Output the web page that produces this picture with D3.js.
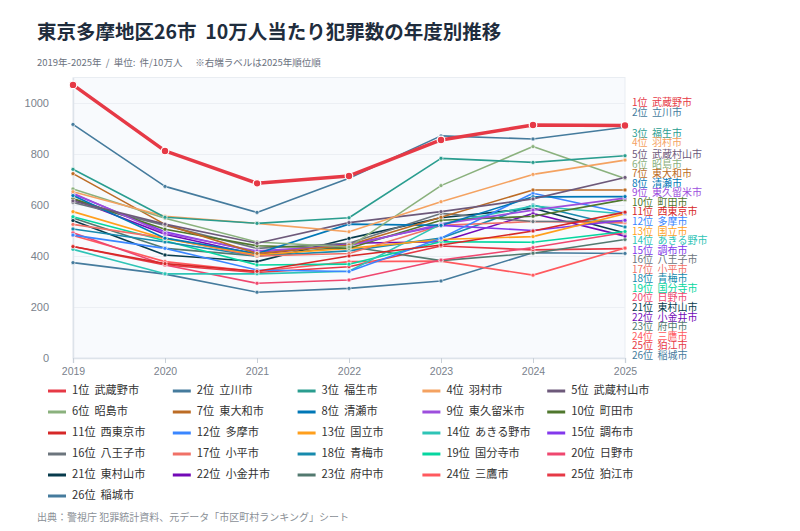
<!DOCTYPE html>
<html>
<head>
<meta charset="utf-8">
<script src="https://cdn.jsdelivr.net/npm/d3@7"></script>
<style>
  body { margin: 0; background: #fff; }
  svg { font-family: "Noto Sans CJK JP", "Noto Sans", sans-serif; }
</style>
</head>
<body>
<svg width="800" height="531"></svg>
<script>
const years = ['2019', '2020', '2021', '2022', '2023', '2024', '2025']
const yTicks = [0, 200, 400, 600, 800, 1000]

// 2025年順位順
const cities = ['武蔵野市', '立川市', '福生市', '羽村市', '武蔵村山市', '昭島市', '東大和市', '清瀬市',
  '東久留米市', '町田市', '西東京市', '多摩市', '国立市', 'あきる野市', '調布市', '八王子市', '小平市',
  '青梅市', '国分寺市', '日野市', '東村山市', '小金井市', '府中市', '三鷹市', '狛江市', '稲城市']

// 10万人当たり犯罪数 (2019..2025)
const values = [
  [1071, 812, 685, 714, 855, 914, 912],
  [916, 673, 571, 705, 871, 859, 905],
  [740, 552, 528, 550, 783, 767, 793],
  [652, 556, 528, 495, 613, 720, 776],
  [616, 525, 450, 531, 574, 624, 708],
  [663, 548, 455, 435, 676, 829, 704],
  [723, 524, 410, 443, 552, 659, 659],
  [637, 470, 410, 525, 520, 632, 633],
  [646, 489, 420, 440, 525, 580, 627],
  [625, 505, 440, 430, 540, 556, 621],
  [437, 370, 340, 400, 443, 498, 572],
  [482, 430, 345, 339, 470, 646, 568],
  [574, 468, 405, 430, 465, 476, 566],
  [426, 330, 330, 340, 525, 596, 565],
  [643, 495, 415, 445, 520, 500, 540],
  [610, 520, 430, 450, 567, 535, 537],
  [524, 470, 400, 410, 520, 535, 530],
  [506, 455, 400, 420, 470, 600, 514],
  [554, 460, 365, 368, 456, 454, 496],
  [491, 365, 293, 306, 384, 433, 492],
  [539, 404, 378, 469, 550, 587, 490],
  [624, 485, 405, 450, 456, 567, 478],
  [549, 430, 400, 437, 382, 411, 465],
  [480, 378, 339, 378, 380, 325, 431],
  [437, 365, 335, 358, 439, 424, 429],
  [374, 329, 258, 273, 302, 413, 410]
]

const palette = ['#e63946', '#457b9d', '#2a9d8f', '#f4a261', '#6d597a', '#8ab17d', '#bc6c25', '#0077b6',
  '#9d4edd', '#4f772d', '#d62828', '#3a86ff', '#ff9f1c', '#2ec4b6', '#8338ec', '#6c757d',
  '#f07167', '#168aad', '#06d6a0', '#ef476f', '#073b4c', '#7209b7', '#52796f', '#ff595e']

const series = cities.map((name, i) => ({
  rank: i + 1,
  name: name,
  color: palette[i % palette.length],
  points: years.map((yr, j) => ({ year: yr, value: values[i][j] }))
}))

const plot = { left: 73, right: 625, top: 77.5, bottom: 358 }

const x = d3.scalePoint().domain(years).range([plot.left, plot.right])
const y = d3.scaleLinear().domain([0, 1100]).range([plot.bottom, plot.top])

const svg = d3.select('svg')

// title
svg.append('text')
  .attr('x', 37).attr('y', 39)
  .attr('font-size', 19.5).attr('font-weight', 700).attr('fill', '#1f2d3d')
  .attr('xml:space', 'preserve')
  .text('東京多摩地区26市  10万人当たり犯罪数の年度別推移')
svg.append('text')
  .attr('x', 37).attr('y', 66)
  .attr('font-size', 9.5).attr('fill', '#6b7280')
  .attr('xml:space', 'preserve')
  .text('2019年-2025年  /  単位:  件/10万人      ※右端ラベルは2025年順位順')

// plot background
svg.append('rect')
  .attr('x', plot.left).attr('y', plot.top)
  .attr('width', plot.right - plot.left).attr('height', plot.bottom - plot.top)
  .attr('fill', '#f8fafd').attr('stroke', '#e9edf2')

// grid
const grid = svg.append('g')
  .attr('transform', `translate(${plot.left},0)`)
  .call(d3.axisLeft(y).tickValues(yTicks).tickSize(-(plot.right - plot.left)).tickFormat(''))
grid.select('.domain').remove()
grid.selectAll('.tick line').attr('stroke', '#eceff4')

// y axis
const yAxisG = svg.append('g')
  .attr('transform', `translate(${plot.left},0)`)
  .call(d3.axisLeft(y).tickValues(yTicks).tickFormat(d3.format('d')).tickSize(0).tickPadding(24))
yAxisG.select('.domain').attr('stroke', '#dde3ea').attr('stroke-width', 1.5)
yAxisG.selectAll('text').attr('font-size', 11).attr('fill', '#7a828c').attr('font-family', 'inherit')

// x axis
const xAxisG = svg.append('g')
  .attr('transform', `translate(0,${plot.bottom})`)
  .call(d3.axisBottom(x).tickSize(5).tickPadding(5))
xAxisG.select('.domain').attr('stroke', '#dde3ea').attr('stroke-width', 1.5)
xAxisG.selectAll('.tick line').attr('stroke', '#c9d0d8')
xAxisG.selectAll('text').attr('font-size', 10.5).attr('fill', '#7a828c').attr('font-family', 'inherit')

// lines
const line = d3.line().x(d => x(d.year)).y(d => y(d.value))
const drawOrder = series.slice().reverse()

svg.append('g').selectAll('path')
  .data(drawOrder)
  .join('path')
  .attr('d', d => line(d.points))
  .attr('fill', 'none')
  .attr('stroke', d => d.color)
  .attr('stroke-width', d => d.rank === 1 ? 3.5 : 1.6)
  .attr('stroke-linejoin', 'round')

svg.append('g').selectAll('g')
  .data(drawOrder)
  .join('g')
  .selectAll('circle')
  .data(d => d.points.map(p => ({ ...p, color: d.color, rank: d.rank })))
  .join('circle')
  .attr('cx', d => x(d.year))
  .attr('cy', d => y(d.value))
  .attr('r', d => d.rank === 1 ? 3.8 : 2)
  .attr('fill', d => d.color)
  .attr('stroke', '#fff')
  .attr('stroke-width', d => d.rank === 1 ? 1.2 : 0.6)

// right end labels, pushed down so they do not overlap
const labelGap = 9.55
let prev = -Infinity
const labelY = series.map(s => {
  const target = y(s.points[s.points.length - 1].value) - 22
  prev = Math.max(target, prev + labelGap)
  return prev
})

svg.append('g').selectAll('text')
  .data(series)
  .join('text')
  .attr('x', plot.right + 7)
  .attr('y', (d, i) => labelY[i])
  .attr('dominant-baseline', 'middle')
  .attr('font-size', 10)
  .attr('fill', d => d.color)
  .attr('xml:space', 'preserve')
  .text(d => `${d.rank}位  ${d.name}`)

// legend
const legend = svg.append('g')
const item = legend.selectAll('g')
  .data(series)
  .join('g')
  .attr('transform', (d, i) => `translate(${48 + (i % 5) * 124.8},${391 + Math.floor(i / 5) * 21})`)
item.append('line')
  .attr('x1', 0).attr('x2', 18)
  .attr('stroke', d => d.color).attr('stroke-width', 3)
item.append('text')
  .attr('x', 24)
  .attr('dominant-baseline', 'middle')
  .attr('font-size', 11.2)
  .attr('fill', '#333')
  .attr('xml:space', 'preserve')
  .text(d => `${d.rank}位  ${d.name}`)

// source
svg.append('text')
  .attr('x', 37).attr('y', 521)
  .attr('font-size', 10).attr('fill', '#8a8f96')
  .text('出典：警視庁 犯罪統計資料、元データ「市区町村ランキング」シート')
</script>
</body>
</html>
